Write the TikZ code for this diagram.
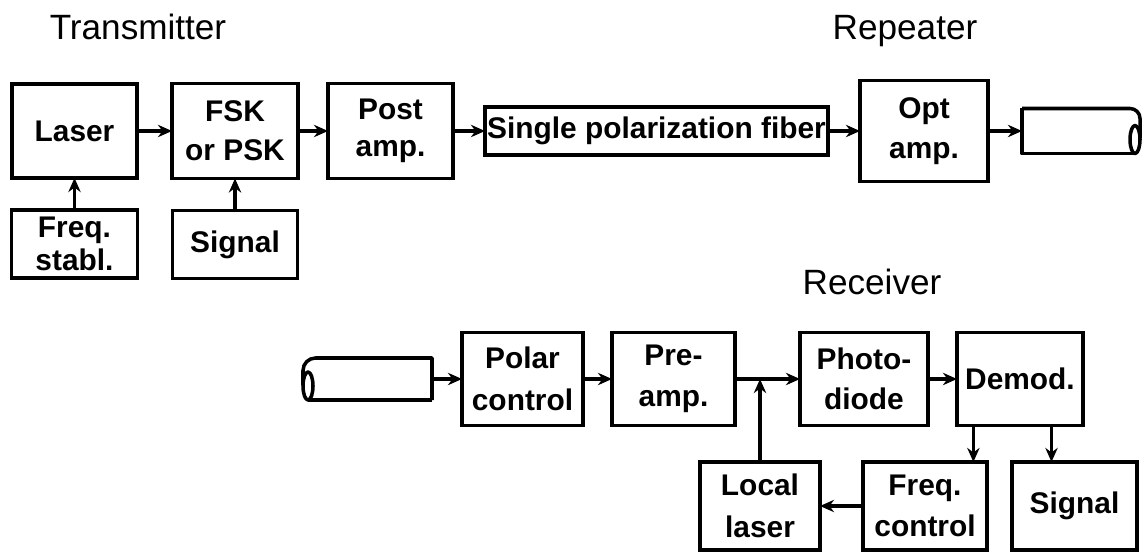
\documentclass[tikz,border=0pt]{standalone}
\usepackage{fontspec}
\setmainfont{Liberation Sans}
\usetikzlibrary{arrows.meta,positioning,calc}

\begin{document}
\begin{tikzpicture}[
    blk/.style={rectangle, draw, line width=2pt, align=center, inner sep=1pt, outer sep=0pt,
                font=\bfseries\fontsize{17}{23}\selectfont},
    ttl/.style={anchor=base, font=\fontsize{20}{24}\selectfont},
    arr/.style={-{Stealth[length=8pt,width=7pt]}, line width=2pt},
    stubline/.style={line width=2pt, line join=round},
]
\useasboundingbox (0,0) rectangle (22.86,-11.06);

% Titles
\node[ttl] (ttx) at (2.76,-0.8) {Transmitter};
\node[ttl] (trp) at (18.1,-0.8) {Repeater};
\node[ttl] (trx) at (17.44,-5.9) {Receiver};

% Transmitter and repeater chain
\node[blk, minimum width=2.5cm, minimum height=1.88cm] (laser) at (1.49,-2.62) {Laser};
\node[blk, minimum width=2.52cm, minimum height=1.9cm, right=0.7cm of laser,
      font=\bfseries\fontsize{17}{22}\selectfont] (fsk) {FSK\\or PSK};
\node[blk, minimum width=2.5cm, minimum height=1.9cm, right=0.6cm of fsk,
      font=\bfseries\fontsize{17}{21}\selectfont] (post) {Post\\amp.};
\node[blk, minimum width=6.86cm, minimum height=0.96cm, right=0.64cm of post] (fiber) {Single polarization fiber};
\node[blk, minimum width=2.56cm, minimum height=2.02cm, right=0.64cm of fiber] (opt) {Opt\\amp.};
\node[minimum width=2.36cm, minimum height=0.9cm, inner sep=0pt, outer sep=0pt, right=0.68cm of opt] (fibA) {};

\node[blk, minimum width=2.52cm, minimum height=1.36cm, below=0.64cm of laser,
      font=\bfseries\fontsize{17}{19}\selectfont] (fstab) {Freq.\\stabl.};
\node[blk, minimum width=2.5cm, minimum height=1.36cm, below=0.64cm of fsk] (tsig) {Signal};

% outgoing fiber piece
\draw[stubline] (fibA.north west) -- (fibA.south west) -- ([xshift=-0.1cm]fibA.south east);
\draw[stubline] (fibA.north west) -- ([xshift=-0.2cm]fibA.north east)
    arc[start angle=90, end angle=0, radius=0.2cm] -- ([yshift=0.3cm]fibA.south east);
\draw[stubline] ([xshift=-0.1cm,yshift=0.28cm]fibA.south east) ellipse[x radius=0.1cm, y radius=0.28cm];

\draw[arr] (laser.east) -- (fsk.west);
\draw[arr] (fsk.east) -- (post.west);
\draw[arr] (post.east) -- (fiber.west);
\draw[arr] (fiber.east) -- (opt.west);
\draw[arr] (opt.east) -- (fibA.west);
\draw[arr] (fstab.north) -- (laser.south);
\draw[arr] (tsig.north) -- (fsk.south);

% Receiver chain
\node[minimum width=2.58cm, minimum height=0.84cm, inner sep=0pt, outer sep=0pt] (fibB) at (7.35,-7.58) {};
\node[blk, minimum width=2.42cm, minimum height=1.86cm, right=0.6cm of fibB,
      font=\bfseries\fontsize{17}{24}\selectfont] (polar) {Polar\\control};
\node[blk, minimum width=2.46cm, minimum height=1.86cm, right=0.58cm of polar] (pre) {Pre-\\amp.};
\node[blk, minimum width=2.56cm, minimum height=1.86cm, right=1.3cm of pre] (photo) {Photo-\\diode};
\node[blk, minimum width=2.52cm, minimum height=1.86cm, right=0.58cm of photo] (demod) {Demod.};

\node[blk, minimum width=2.4cm, minimum height=1.76cm,
      font=\bfseries\fontsize{17}{24}\selectfont] (lloc) at (15.2,-10.12) {Local\\laser};
\node[blk, minimum width=2.48cm, minimum height=1.76cm, right=0.86cm of lloc] (fctl) {Freq.\\control};
\node[blk, minimum width=2.5cm, minimum height=1.76cm, right=0.5cm of fctl] (rsig) {Signal};

% incoming fiber piece
\draw[stubline] (fibB.south east) -- (fibB.north east) -- ([xshift=0.25cm]fibB.north west)
    arc[start angle=90, end angle=180, radius=0.25cm] -- ([yshift=0.3cm]fibB.south west);
\draw[stubline] ([xshift=0.1cm,yshift=0.28cm]fibB.south west) ellipse[x radius=0.1cm, y radius=0.28cm];
\draw[stubline] ([xshift=0.1cm]fibB.south west) -- (fibB.south east);

\coordinate (dmA) at ($(demod.south west)!0.13!(demod.south east)$);
\coordinate (dmB) at ($(demod.south west)!0.75!(demod.south east)$);

\draw[arr] (fibB.east) -- (polar.west);
\draw[arr] (polar.east) -- (pre.west);
\draw[arr] (pre.east) -- (photo.west);
\draw[arr] (photo.east) -- (demod.west);
\draw[arr] (lloc.north) -- (lloc.north |- pre.east);
\draw[arr] (dmA) -- (dmA |- fctl.north);
\draw[arr] (dmB) -- (dmB |- rsig.north);
\draw[arr] (fctl.west) -- (lloc.east);

\end{tikzpicture}
\end{document}
